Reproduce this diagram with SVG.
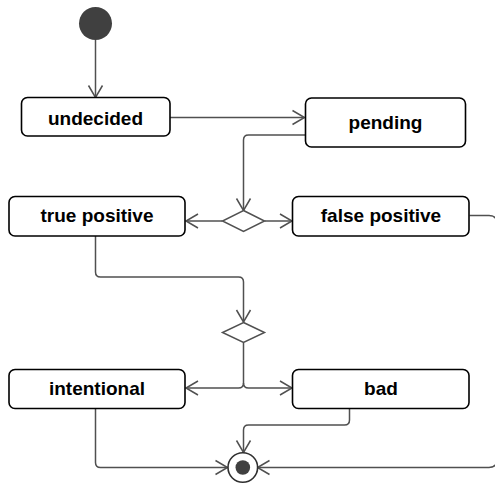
<svg xmlns="http://www.w3.org/2000/svg" width="495" height="487" viewBox="0 0 495 487">
  <style>
    .state rect { fill: #ffffff; stroke: #000000; stroke-width: 1.6; }
    .state text { font-family: "Liberation Sans", Arial, sans-serif; font-weight: bold; font-size: 19px; fill: #000000; text-anchor: middle; }
    .decision polygon { fill: #ffffff; stroke: #505050; stroke-width: 1.5; }
    .edge { fill: none; stroke: #505050; stroke-width: 1.5; marker-end: url(#arrow); }
  </style>
  <defs>
    <marker id="arrow" viewBox="-2 -2 18 18" refX="13" refY="7" markerWidth="18" markerHeight="18" orient="auto" markerUnits="userSpaceOnUse">
      <path d="M1,0 L13,7 L1,14" fill="none" stroke="#505050" stroke-width="1.5"/>
    </marker>
  </defs>

  <rect width="495" height="487" fill="#ffffff"/>

  <!-- connectors -->
  <g id="connectors">
    <path class="edge" d="M95.5,40 V97.5"/>
    <path class="edge" d="M170,117.5 H304.5"/>
    <path class="edge" d="M305,135 H248.5 Q243.5,135 243.5,140 V210.5"/>
    <path class="edge" d="M222.5,221 H186"/>
    <path class="edge" d="M264.5,221 H292"/>
    <path class="edge" d="M95.5,236 V272 Q95.5,277 100.5,277 H238.5 Q243.5,277 243.5,282 V322"/>
    <path class="edge" d="M243.5,343 V383 Q243.5,388 238.5,388 H186"/>
    <path class="edge" d="M243.5,383 Q243.5,388 248.5,388 H292"/>
    <path class="edge" d="M95.5,408.5 V462.5 Q95.5,467.5 100.5,467.5 H227.5"/>
    <path class="edge" d="M349.5,408.5 V420 Q349.5,425 344.5,425 H248.5 Q243.5,425 243.5,430 V452.5"/>
    <path class="edge" d="M469.5,215.5 H489 Q497,215.5 497,223.5 V459.5 Q497,467.5 489,467.5 H257.5"/>
  </g>

  <!-- initial node -->
  <g id="start">
    <circle cx="95.5" cy="23.5" r="16.5" fill="#404040"/>
  </g>

  <g id="undecided" class="state">
    <rect x="21.5" y="97.5" width="148.5" height="38.5" rx="6"/>
    <text x="95.5" y="124.5">undecided</text>
  </g>

  <g id="pending" class="state">
    <rect x="305.5" y="98" width="160" height="49" rx="6"/>
    <text x="385.5" y="128.5">pending</text>
  </g>

  <g id="decision1" class="decision">
    <polygon points="243.5,210.5 264.5,221 243.5,231.5 222.5,221"/>
  </g>

  <g id="true-positive" class="state">
    <rect x="9" y="196.5" width="176" height="39.5" rx="6"/>
    <text x="97" y="221.5">true positive</text>
  </g>

  <g id="false-positive" class="state">
    <rect x="292.5" y="196.5" width="176.5" height="39.5" rx="6"/>
    <text x="381" y="221.5">false positive</text>
  </g>

  <g id="decision2" class="decision">
    <polygon points="243.5,322.5 264.5,332.5 243.5,342.5 222.5,332.5"/>
  </g>

  <g id="intentional" class="state">
    <rect x="9" y="369.5" width="176" height="39" rx="6"/>
    <text x="97" y="395">intentional</text>
  </g>

  <g id="bad" class="state">
    <rect x="292.5" y="369.5" width="176.5" height="39" rx="6"/>
    <text x="381" y="395">bad</text>
  </g>

  <!-- final node -->
  <g id="end">
    <circle cx="242.8" cy="467.5" r="14.8" fill="#ffffff" stroke="#303030" stroke-width="1.6"/>
    <circle cx="242.8" cy="467.5" r="7.3" fill="#404040"/>
  </g>
</svg>
